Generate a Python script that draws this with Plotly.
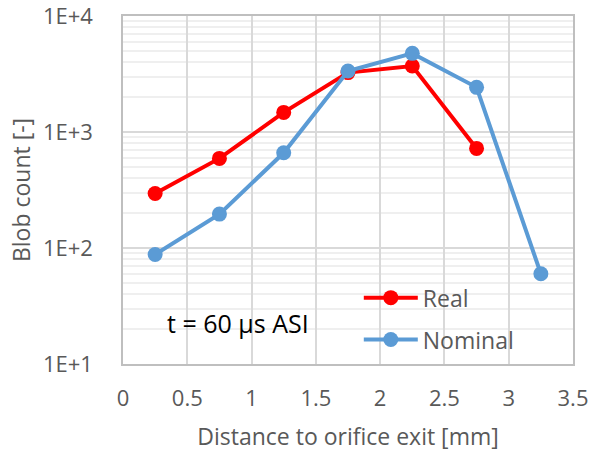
import plotly.graph_objects as go

distance = [0.25, 0.75, 1.25, 1.75, 2.25, 2.75, 3.25]
real = [295, 592, 1476, 3250, 3704, 722]
nominal = [88, 196, 662, 3352, 4764, 2426, 60]

x_ticks = [0, 0.5, 1, 1.5, 2, 2.5, 3, 3.5]
x_ticklabels = ["0", "0.5", "1", "1.5", "2", "2.5", "3", "3.5"]
y_ticks = [10, 100, 1000, 10000]
y_ticklabels = ["1E+1", "1E+2", "1E+3", "1E+4"]

minor_vals = [m * 10 ** d for d in range(1, 4) for m in range(2, 10)]

FONT = "Open Sans"
GREY = "#595959"
FS = 22
FT = 23

fig = go.Figure()
fig.add_trace(go.Scatter(
    x=distance[:len(real)], y=real, name="Real", mode="lines+markers",
    line=dict(color="#FF0000", width=4), marker=dict(size=15, color="#FF0000"),
    legendgroup="a"))
fig.add_trace(go.Scatter(
    x=distance, y=nominal, name="Nominal", mode="lines+markers",
    line=dict(color="#5B9BD5", width=4), marker=dict(size=15, color="#5B9BD5"),
    legendgroup="b"))

fig.update_layout(
    width=591, height=452,
    margin=dict(l=123, r=18, t=16, b=88),
    paper_bgcolor="white", plot_bgcolor="white",
    font=dict(family=FONT, size=FS, color=GREY),
    showlegend=True,
    legend=dict(x=0.524, y=0.008, xanchor="left", yanchor="bottom", itemwidth=54,
                bgcolor="rgba(0,0,0,0)", traceorder="grouped", tracegroupgap=9,
                font=dict(family=FONT, size=FT, color=GREY)),
    xaxis=dict(range=[0, 3.5], tickvals=x_ticks, ticktext=x_ticklabels,
               showgrid=True, gridcolor="#d9d9d9", gridwidth=1.5,
               showline=True, linecolor="#bfbfbf", linewidth=1.5, mirror=True,
               zeroline=False, ticks="", ticklabelstandoff=14, automargin=False,
               ticklabeloverflow="allow",
               title=dict(text="Distance to orifice exit [mm]", standoff=19,
                          font=dict(family=FONT, size=FT, color=GREY))),
    yaxis=dict(type="log", range=[1, 4], tickvals=y_ticks, ticktext=y_ticklabels,
               showgrid=True, gridcolor="#d9d9d9", gridwidth=1.5,
               showline=True, linecolor="#bfbfbf", linewidth=1.5, mirror=True,
               zeroline=False, ticks="", ticklabelstandoff=24, automargin=False,
               ticklabeloverflow="allow",
               minor=dict(tickvals=minor_vals, showgrid=True, gridcolor="#efefef", gridwidth=1.5),
               title=dict(text="Blob count [-]", standoff=6,
                          font=dict(family=FONT, size=FT, color=GREY))),
    annotations=[dict(text="t = 60 µs ASI", x=0.093, y=0.118, xref="paper", yref="paper",
                      xanchor="left", yanchor="middle", showarrow=False,
                      font=dict(family=FONT, size=25, color="black"))],
)

fig.write_html("out.html")
